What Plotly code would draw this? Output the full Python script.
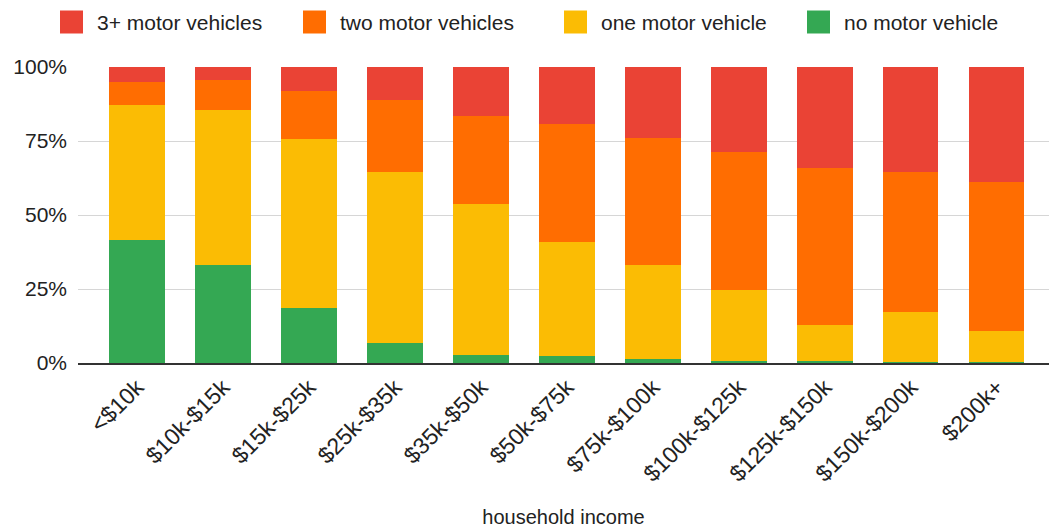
import plotly.graph_objects as go

# Household income brackets
income = ["<$10k", "$10k-$15k", "$15k-$25k", "$25k-$35k", "$35k-$50k", "$50k-$75k",
          "$75k-$100k", "$100k-$125k", "$125k-$150k", "$150k-$200k", "$200k+"]

# Share of households (%) by number of motor vehicles
no_vehicle = [41.7, 33.0, 18.7, 6.8, 2.8, 2.3, 1.4, 0.8, 0.6, 0.4, 0.3]
one_vehicle = [45.4, 52.4, 57.1, 57.7, 51.0, 38.6, 31.6, 23.8, 12.1, 16.8, 10.5]
two_vehicles = [7.8, 10.1, 16.1, 24.2, 29.5, 39.7, 43.1, 46.7, 53.3, 47.3, 50.3]
three_plus = [5.1, 4.5, 8.1, 11.3, 16.7, 19.4, 23.9, 28.7, 34.0, 35.5, 38.9]

# Y-axis ticks
y_ticks = [0, 25, 50, 75, 100]
y_tick_labels = ["0%", "25%", "50%", "75%", "100%"]

series = [
    ("no motor vehicle", no_vehicle, "#34A853"),
    ("one motor vehicle", one_vehicle, "#FBBC04"),
    ("two motor vehicles", two_vehicles, "#FF6D01"),
    ("3+ motor vehicles", three_plus, "#EA4335"),
]

W, H = 1049, 529
M_L, M_R, M_T, M_B = 78, 0, 67, 166
plot_w = W - M_L - M_R
plot_h = H - M_T - M_B


def px_to_paper(px, py):
    return (px - M_L) / plot_w, (H - M_B - py) / plot_h


fig = go.Figure()
for name, vals, color in series:
    fig.add_trace(go.Bar(x=income, y=vals, name=name, marker_color=color,
                         marker_line_width=0, showlegend=False))

# Legend row along the top: large colour squares followed by the series name
legend_left = [60, 303, 564, 807]
sq = 23
legend_mid_y = 22
shapes, annotations = [], []
for (name, _, color), left in zip(reversed(series), legend_left):
    x0, y0 = px_to_paper(left, legend_mid_y + sq / 2)
    x1, y1 = px_to_paper(left + sq, legend_mid_y - sq / 2)
    shapes.append(dict(type="rect", xref="paper", yref="paper", x0=x0, x1=x1,
                       y0=y0, y1=y1, fillcolor=color, line_width=0))
    tx, ty = px_to_paper(left + 35, legend_mid_y)
    annotations.append(dict(text=name, xref="paper", yref="paper", x=tx, y=ty,
                            xanchor="left", yanchor="middle", showarrow=False,
                            font=dict(size=21, color="#222222")))

font_family = "Liberation Sans, Arial, sans-serif"
fig.update_layout(
    barmode="stack",
    bargap=0.36,
    width=W, height=H,
    margin=dict(l=M_L, r=M_R, t=M_T, b=M_B),
    paper_bgcolor="white", plot_bgcolor="white",
    font=dict(family=font_family, size=20, color="#222222"),
    shapes=shapes,
    annotations=annotations,
    xaxis=dict(tickangle=-45, range=[-0.686, 10.605], showgrid=False,
               showline=True, linecolor="#333333", linewidth=1.5,
               ticks="", tickfont=dict(size=23),
               title=dict(text="household income", font=dict(size=20), standoff=24)),
    yaxis=dict(range=[0, 100], tickvals=y_ticks, ticktext=y_tick_labels,
               showgrid=True, gridcolor="#d6d6d6", gridwidth=1, zeroline=False,
               tickfont=dict(size=21), ticklabelstandoff=10),
    showlegend=False,
)

fig.write_html("out.html")
